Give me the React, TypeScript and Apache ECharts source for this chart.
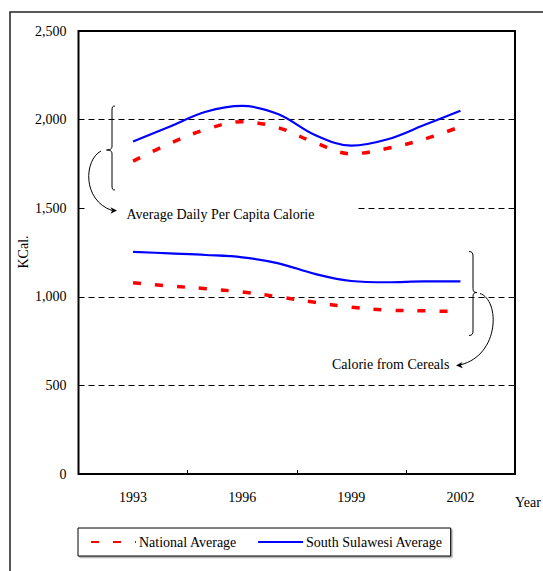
import React, { useEffect, useRef } from "react";
import * as echarts from "echarts";

// Year slots along the axis; the first and last are empty padding slots.
const years = ["1992", "1993", "1994", "1995", "1996", "1997", "1998", "1999", "2000", "2001", "2002", "2003"];

// Average daily per capita calorie intake (KCal.)
const nationalTotal = [null, 1766, 1864, 1945, 1988, 1954, 1870, 1807, 1838, 1889, 1960, null];
const sulawesiTotal = [null, 1877, 1960, 2044, 2077, 2030, 1913, 1853, 1889, 1969, 2050, null];

// Calorie from cereals (KCal.)
const nationalCereal = [null, 1079, 1061, 1046, 1027, 1000, 969, 941, 925, 921, 916, null];
const sulawesiCereal = [null, 1254, 1245, 1236, 1223, 1189, 1129, 1089, 1082, 1087, 1087, null];

const yTicks = { min: 0, max: 2500, interval: 500 };

const FONT = '"Liberation Serif", "Times New Roman", serif';

// Curly braces and curved arrows for the annotations
const leftBrace =
  "M 115 106 C 112.5 106 112 107 112 110 L 112 146 C 112 149 110.5 150 106.5 150 C 110.5 150 112 151 112 154 L 112 186 C 112 189 112.5 190 115 190";
const leftArrow = "M 101 151 C 84 160 82 200 112 210.5";
const leftHead = "M 117 210.5 L 110.5 207.3 L 112.3 210.5 L 110.5 213.7 Z";
const rightBrace =
  "M 469 251.5 C 472 251.5 473 253 473 256 L 473 288.5 C 473 291.5 474 292.5 477 292.5 C 474 292.5 473 293.5 473 296.5 L 473 331 C 473 334 472 335.5 469 335.5";
const rightArrow = "M 480 293.5 C 500 300 500 355 460.5 364.8";
const rightHead = "M 456 365.6 L 462.3 361.9 L 460.8 365 L 462.8 368.3 Z";

echarts.graphic.registerShape("braceL", echarts.graphic.extendPath(leftBrace, {}));
echarts.graphic.registerShape("arrowL", echarts.graphic.extendPath(leftArrow, {}));
echarts.graphic.registerShape("headL", echarts.graphic.extendPath(leftHead, {}));
echarts.graphic.registerShape("braceR", echarts.graphic.extendPath(rightBrace, {}));
echarts.graphic.registerShape("arrowR", echarts.graphic.extendPath(rightArrow, {}));
echarts.graphic.registerShape("headR", echarts.graphic.extendPath(rightHead, {}));

const RED = "#ff0000";
const BLUE = "#0000ff";

export default function App() {
  const ref = useRef<HTMLDivElement>(null);

  useEffect(() => {
    if (!ref.current) return;
    const chart = echarts.init(ref.current, null, { renderer: "svg" });

    const dashed = {
      color: RED,
      width: 3.5,
      type: [8, 14] as number[],
      cap: "butt" as const,
    };
    const solid = { color: BLUE, width: 2.2 };

    const lineSeries = (name: string, data: (number | null)[], lineStyle: any, z: number) => ({
      name,
      type: "line",
      data,
      smooth: 0.35,
      symbol: "none",
      lineStyle,
      itemStyle: { color: lineStyle.color },
      z,
    });

    const label = (text: string, x: number, y: number, extra: any = {}) => ({
      type: "text",
      z: 60,
      x,
      y,
      ...extra,
      style: {
        text,
        fontFamily: FONT,
        fontSize: 14,
        fill: "#000",
        verticalAlign: "middle",
        ...(extra.style || {}),
      },
    });

    chart.setOption({
      animation: false,
      backgroundColor: "#fff",
      textStyle: { fontFamily: FONT, color: "#000" },
      grid: {
        left: 78.5,
        top: 31,
        right: 28,
        bottom: 97,
        show: true,
        borderColor: "#000",
        borderWidth: 2,
        backgroundColor: "transparent",
      },
      legend: {
        left: 78,
        top: 528,
        orient: "horizontal",
        data: ["National Average", "South Sulawesi Average"],
        itemWidth: 45,
        itemHeight: 14,
        itemGap: 20,
        padding: [7, 8, 7, 12],
        borderColor: "#000",
        borderWidth: 1,
        backgroundColor: "#fff",
        shadowColor: "rgba(0,0,0,0.35)",
        shadowOffsetX: 1.5,
        shadowOffsetY: 1.5,
        shadowBlur: 0,
        itemStyle: { opacity: 0 },
        textStyle: { fontFamily: FONT, fontSize: 14, color: "#000", padding: [0, 0, 0, -2] },
      },
      xAxis: {
        type: "category",
        data: years,
        boundaryGap: true,
        axisLine: { show: false },
        axisTick: {
          show: true,
          inside: true,
          length: 4,
          interval: (index: number) => index > 0 && index < years.length && index % 3 === 0,
          lineStyle: { color: "#000", width: 1 },
        },
        axisLabel: {
          interval: (index: number) => (index - 1) % 3 === 0 && index > 0 && index < years.length - 1,
          fontFamily: FONT,
          fontSize: 14,
          color: "#000",
          margin: 16,
        },
        splitLine: { show: false },
      },
      yAxis: {
        type: "value",
        min: yTicks.min,
        max: yTicks.max,
        interval: yTicks.interval,
        axisLine: { show: false },
        axisTick: { show: false },
        axisLabel: {
          fontFamily: FONT,
          fontSize: 14,
          color: "#000",
          margin: 12,
          formatter: (v: number) => v.toLocaleString("en-US"),
        },
        splitLine: {
          show: true,
          lineStyle: { color: "#000", width: 1, type: [6, 4] },
        },
      },
      series: [
        lineSeries("National Average", nationalTotal, dashed, 3),
        lineSeries("South Sulawesi Average", sulawesiTotal, solid, 4),
        lineSeries("National Average", nationalCereal, dashed, 3),
        lineSeries("South Sulawesi Average", sulawesiCereal, solid, 4),
      ],
      graphic: [
        // outer chart frame
        {
          type: "rect",
          z: 1,
          shape: { x: 10, y: 12, width: 620, height: 620 },
          style: { fill: "none", stroke: "#222", lineWidth: 1.5 },
          silent: true,
        },
        // white box behind the upper annotation label
        {
          type: "rect",
          z: 50,
          shape: { x: 86, y: 202, width: 270, height: 14 },
          style: { fill: "#fff", stroke: "none" },
          silent: true,
        },
        label("Average Daily Per Capita Calorie", 126.5, 214),
        label("Calorie from Cereals", 332, 364.5),
        label("Year", 515, 502),
        label("KCal.", 23, 252, { rotation: Math.PI / 2, style: { align: "center" } }),
        { type: "braceL", z: 60, style: { fill: "none", stroke: "#000", lineWidth: 1 } },
        { type: "arrowL", z: 60, style: { fill: "none", stroke: "#000", lineWidth: 1 } },
        { type: "headL", z: 60, style: { fill: "#000", stroke: "none" } },
        { type: "braceR", z: 60, style: { fill: "none", stroke: "#000", lineWidth: 1 } },
        { type: "arrowR", z: 60, style: { fill: "none", stroke: "#000", lineWidth: 1 } },
        { type: "headR", z: 60, style: { fill: "#000", stroke: "none" } },
      ],
    });

    return () => chart.dispose();
  }, []);

  return (
    <div
      ref={ref}
      style={{ position: "fixed", left: 0, top: 0, width: 543, height: 571 }}
    />
  );
}
